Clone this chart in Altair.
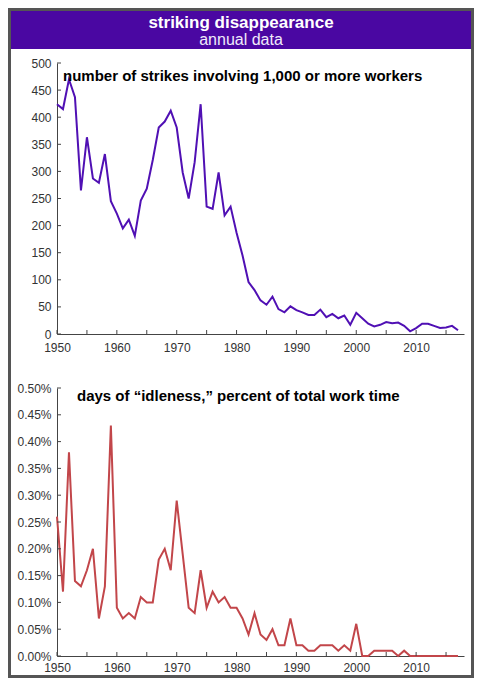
import altair as alt
import pandas as pd

YEARS = list(range(1950, 2018))
STRIKES = [424, 415, 470, 437, 265, 363, 287, 279, 332, 245,
           222, 195, 211, 181, 246, 268, 321, 381, 392, 412,
           381, 298, 250, 317, 424, 235, 231, 298, 219, 235,
           187, 145, 96, 81, 62, 54, 69, 46, 40, 51,
           44, 40, 35, 35, 45, 31, 37, 29, 34, 17,
           39, 29, 19, 14, 17, 22, 20, 21, 15, 5,
           11, 19, 19, 15, 11, 12, 15, 7]
IDLE = [0.26, 0.12, 0.38, 0.14, 0.13, 0.16, 0.20, 0.07, 0.13, 0.43,
        0.09, 0.07, 0.08, 0.07, 0.11, 0.10, 0.10, 0.18, 0.20, 0.16,
        0.29, 0.19, 0.09, 0.08, 0.16, 0.09, 0.12, 0.10, 0.11, 0.09,
        0.09, 0.07, 0.04, 0.08, 0.04, 0.03, 0.05, 0.02, 0.02, 0.07,
        0.02, 0.02, 0.01, 0.01, 0.02, 0.02, 0.02, 0.01, 0.02, 0.01,
        0.06, 0.00, 0.00, 0.01, 0.01, 0.01, 0.01, 0.00, 0.01, 0.00,
        0.00, 0.00, 0.00, 0.00, 0.00, 0.00, 0.00, 0.00]
X_LABELS = [1950, 1960, 1970, 1980, 1990, 2000, 2010]
X_TICKS = [1950, 1955, 1960, 1965, 1970, 1975, 1980, 1985, 1990, 1995,
           2000, 2005, 2010, 2015]
STRIKE_TICKS = [0, 50, 100, 150, 200, 250, 300, 350, 400, 450, 500]
IDLE_TICKS = [0.00, 0.05, 0.10, 0.15, 0.20, 0.25, 0.30, 0.35, 0.40, 0.45, 0.50]
TITLE = "striking disappearance"
SUBTITLE = "annual data"
TOP_LABEL = "number of strikes involving 1,000 or more workers"
BOTTOM_LABEL = "days of \u201cidleness,\u201d percent of total work time"

FONT = "Liberation Sans"
PURPLE = "#4a07a2"
LINE_PURPLE = "#5010b4"
RED = "#c2464a"
AXIS = "#444444"
W = 407
H1 = 271
H2 = 268


def panel(values, color, ydomain, yticks, label_expr, label, lx, ly, height,
          xpad, extra=None):
    df = pd.DataFrame({"year": YEARS, "value": values})
    x_enc = alt.X("year:Q",
                  scale=alt.Scale(domain=[1950, 2018], nice=False, zero=False),
                  axis=alt.Axis(values=X_LABELS, format="d", ticks=False, grid=False,
                                domainColor=AXIS, labelColor="#333333", labelFont=FONT,
                                labelFontSize=12, labelPadding=xpad, labelFlush=False,
                                title=None))
    y_enc = alt.Y("value:Q",
                  scale=alt.Scale(domain=ydomain, nice=False, zero=True),
                  axis=alt.Axis(values=yticks, labelExpr=label_expr, ticks=False, grid=False,
                                domainColor=AXIS, labelColor="#333333", labelFont=FONT,
                                labelFontSize=12, labelPadding=6, title=None))
    line = alt.Chart(df).mark_line(color=color, strokeWidth=2).encode(x=x_enc, y=y_enc)
    yt = alt.Chart(pd.DataFrame({"value": yticks})).mark_rule(color=AXIS).encode(
        y=y_enc, x=alt.value(0), x2=alt.value(4))
    xt = alt.Chart(pd.DataFrame({"year": X_TICKS})).mark_rule(color=AXIS).encode(
        x=x_enc, y=alt.value(height), y2=alt.value(height - 4))
    txt = alt.Chart(pd.DataFrame({"t": [label]})).mark_text(
        font=FONT, fontSize=15, fontWeight="bold", color="black",
        align="left", baseline="alphabetic").encode(
        x=alt.value(lx), y=alt.value(ly), text="t:N")
    layers = [line, yt, xt, txt]
    if extra is not None:
        layers.append(extra)
    return alt.layer(*layers).properties(width=W, height=height)


hdf = pd.DataFrame({"t": [TITLE], "s": [SUBTITLE]})
band = alt.Chart(hdf).mark_rect(color=PURPLE).encode(
    x=alt.value(-49), x2=alt.value(417), y=alt.value(0), y2=alt.value(41))
t1 = alt.Chart(hdf).mark_text(font=FONT, fontSize=17, fontWeight="bold", color="white",
                              align="center", baseline="alphabetic").encode(
    x=alt.value(184), y=alt.value(20), text="t:N")
t2 = alt.Chart(hdf).mark_text(font=FONT, fontSize=16, color="#f0eafa",
                              align="center", baseline="alphabetic").encode(
    x=alt.value(184), y=alt.value(37), text="s:N")
header = alt.layer(band, t1, t2).properties(width=W, height=1)

frame = alt.Chart(hdf).mark_rect(filled=False, stroke="#555555", strokeWidth=3).encode(
    x=alt.value(-47.5), x2=alt.value(415.5), y=alt.value(-378.5), y2=alt.value(288.5))

top = panel(STRIKES, LINE_PURPLE, [0, 500], STRIKE_TICKS, "datum.label",
            TOP_LABEL, 6, 17.5, H1, 8)
bottom = panel(IDLE, RED, [0, 0.5], IDLE_TICKS, "format(datum.value, '.2f') + '%'",
               BOTTOM_LABEL, 20, 12.5, H2, 6, extra=frame)

chart = alt.vconcat(header, top, bottom, spacing=54, bounds="flush").properties(
    padding=0, background="white").configure_view(stroke=None)

chart.save("out.html", embed_options={"renderer": "svg", "actions": False})
